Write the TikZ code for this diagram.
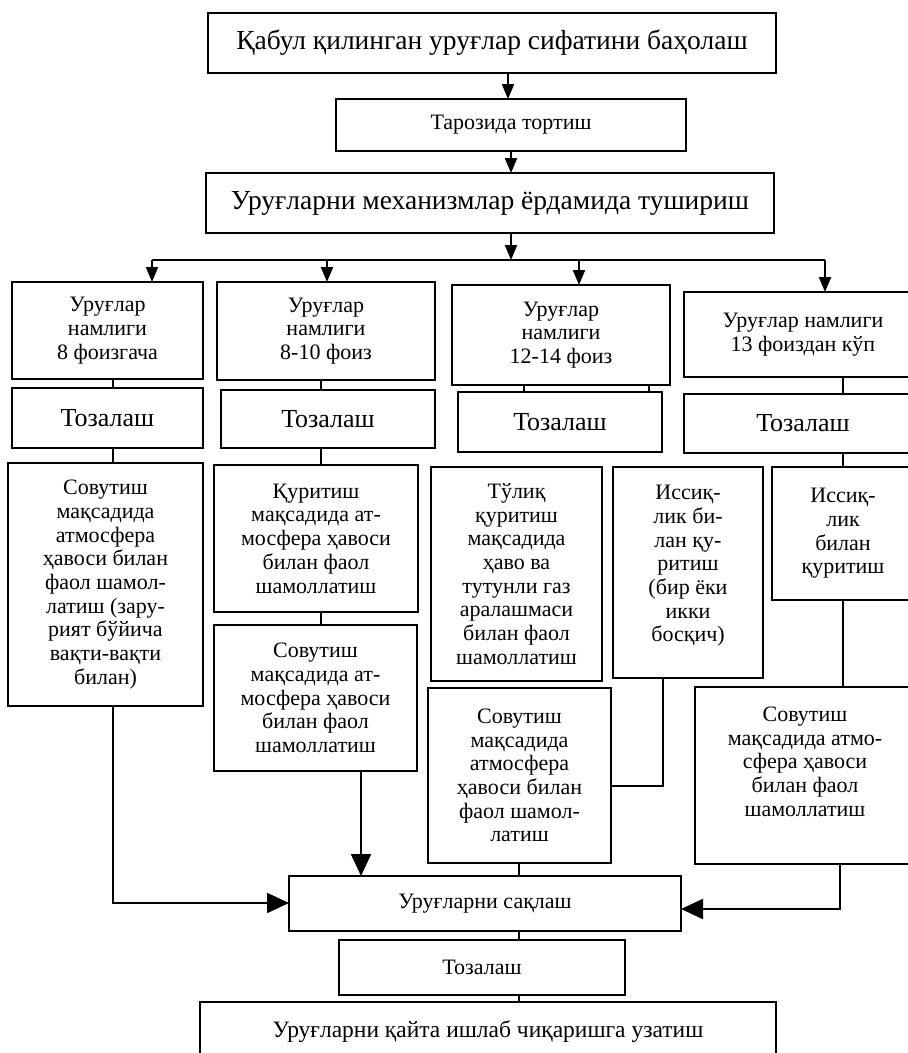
\documentclass[tikz,border=0pt]{standalone}
\usepackage{fontspec}
\setmainfont{Liberation Serif}
\usetikzlibrary{arrows.meta,calc}
\tikzset{
  box/.style={draw, line width=2.1pt, inner sep=0pt, outer sep=0pt, align=center},
  big/.style={font=\fontsize{27.5}{32}\selectfont},
  mid/.style={font=\fontsize{26}{30}\selectfont},
  txt/.style={font=\fontsize{22}{23.7}\selectfont},
  conn/.style={line width=2.1pt},
  sarrow/.style={conn, -{Triangle[width=12pt,length=15pt]}},
  barrow/.style={conn, -{Triangle[width=20pt,length=22pt]}},
}
\begin{document}
\begin{tikzpicture}[x=1pt,y=-1pt]
\clip (0,0) rectangle (908,1053);
\fill[white] (0,0) rectangle (908,1053);
% top chain
\node[box,big,minimum width=568pt,minimum height=60pt] (A1) at (492,43) {Қабул қилинган уруғлар сифатини баҳолаш};
\node[box,txt,minimum width=350pt,minimum height=52pt] (A2) at (511,125) {Тарозида тортиш};
\node[box,big,minimum width=568pt,minimum height=60pt] (A3) at (490,203) {Уруғларни механизмлар ёрдамида тушириш};
% moisture row
\node[box,txt,minimum width=191pt,minimum height=97pt] (B1) at (107.5,330.5) {Уруғлар\\намлиги\\8 фоизгача};
\node[box,txt,minimum width=218pt,minimum height=98pt] (B2) at (326,331) {Уруғлар\\намлиги\\8-10 фоиз};
\node[box,txt,minimum width=218pt,minimum height=100pt] (B3) at (561,335) {Уруғлар\\намлиги\\12-14 фоиз};
\node[box,txt,minimum width=238pt,minimum height=85pt] (B4) at (803,334.5) {Уруғлар намлиги\\13 фоиздан кўп};
% cleaning row
\node[box,mid,minimum width=191pt,minimum height=60pt] (T1) at (107.5,418) {Тозалаш};
\node[box,mid,minimum width=214pt,minimum height=58pt] (T2) at (328,419) {Тозалаш};
\node[box,mid,minimum width=204pt,minimum height=60pt] (T3) at (560,422) {Тозалаш};
\node[box,mid,minimum width=238pt,minimum height=59pt] (T4) at (803,423.5) {Тозалаш};
% treatment boxes
\node[box,txt,minimum width=195pt,minimum height=243pt] (C1) at (105.5,584.5) {Совутиш\\мақсадида\\атмосфера\\ҳавоси билан\\фаол шамол-\\латиш (зару-\\рият бўйича\\вақти-вақти\\билан)};
\node[box,txt,minimum width=204pt,minimum height=147pt] (D2) at (316,538.5) {Қуритиш\\мақсадида ат-\\мосфера ҳавоси\\билан фаол\\шамоллатиш};
\node[box,txt,minimum width=203pt,minimum height=146pt] (E2) at (315.5,698) {Совутиш\\мақсадида ат-\\мосфера ҳавоси\\билан фаол\\шамоллатиш};
\node[box,txt,minimum width=171pt,minimum height=214pt] (D3) at (516.5,574) {Тўлиқ\\қуритиш\\мақсадида\\ҳаво ва\\тутунли газ\\аралашмаси\\билан фаол\\шамоллатиш};
\node[box,txt,minimum width=150pt,minimum height=211pt] (D3b) at (688,572.5) {Иссиқ-\\лик би-\\лан қу-\\ритиш\\(бир ёки\\икки\\босқич)\\[-6pt]\mbox{}};
\node[box,txt,minimum width=142pt,minimum height=133pt] (D4) at (843,533.5) {Иссиқ-\\лик\\билан\\қуритиш};
\node[box,txt,minimum width=183pt,minimum height=175pt] (E3) at (519.5,775.5) {Совутиш\\мақсадида\\атмосфера\\ҳавоси билан\\фаол шамол-\\латиш};
\node[box,txt,minimum width=220pt,minimum height=177pt] (E4) at (805,775.5) {Совутиш\\мақсадида атмо-\\сфера ҳавоси\\билан фаол\\шамоллатиш\\[4pt]\mbox{}};
% bottom chain
\node[box,txt,minimum width=392pt,minimum height=55pt] (S) at (485,903.5) {Уруғларни сақлаш};
\node[box,txt,minimum width=286pt,minimum height=55pt] (T5) at (482,967.5) {Тозалаш};
\node[box,txt,font=\fontsize{23.5}{26}\selectfont,minimum width=576pt,minimum height=60pt] (F) at (488,1032) {Уруғларни қайта ишлаб чиқаришга узатиш};
% helper coordinates
\coordinate (xa) at (508,0);
\coordinate (xb) at (511,0);
\coordinate (jn) at (511,260);
\coordinate (jl) at (152,260);
\coordinate (j2) at (327,260);
\coordinate (j3) at (579,260);
\coordinate (jr) at (825,260);
\coordinate (x1) at (113,0);
\coordinate (x2) at (321,0);
\coordinate (x3a) at (524,0);
\coordinate (x3b) at (649,0);
\coordinate (x4) at (843,0);
\coordinate (kD) at (663,786);
\coordinate (kL) at (113,903);
\coordinate (kR) at (840,909);
\coordinate (xs) at (361,0);
\coordinate (xm) at (519,0);
% connectors top
\draw[sarrow] (A1.south -| xa) -- (A2.north -| xa);
\draw[sarrow] (A2.south -| xb) -- (A3.north -| xb);
\draw[sarrow] (A3.south -| xb) -- (jn);
\draw[conn] (jl) -- (jr);
\draw[sarrow] (jl) -- (jl |- B1.north);
\draw[sarrow] (j2) -- (j2 |- B2.north);
\draw[sarrow] (j3) -- (j3 |- B3.north);
\draw[sarrow] (jr) -- (jr |- B4.north);
% column connectors
\draw[conn] (B1.south -| x1) -- (T1.north -| x1);
\draw[conn] (T1.south -| x1) -- (C1.north -| x1);
\draw[conn] (B2.south -| x2) -- (T2.north -| x2);
\draw[conn] (T2.south -| x2) -- (D2.north -| x2);
\draw[conn] (D2.south -| x2) -- (E2.north -| x2);
\draw[conn] (B3.south -| x3a) -- (T3.north -| x3a);
\draw[conn] (B3.south -| x3b) -- (T3.north -| x3b);
\draw[conn] (B4.south -| x4) -- (T4.north -| x4);
\draw[conn] (T4.south -| x4) -- (D4.north -| x4);
\draw[conn] (D4.south -| x4) -- (E4.north -| x4);
\draw[conn] (D3b.south -| kD) -- (kD) -- (kD -| E3.east);
% into storage
\draw[barrow] (C1.south -| kL) -- (kL) -- (kL -| S.west);
\draw[barrow] (E2.south -| xs) -- (S.north -| xs);
\draw[conn] (E3.south -| xm) -- (S.north -| xm);
\draw[barrow] (E4.south -| kR) -- (kR) -- (kR -| S.east);
\draw[conn] (S.south -| xm) -- (T5.north -| xm);
\draw[conn] (T5.south -| xm) -- (F.north -| xm);
\end{tikzpicture}
\end{document}
